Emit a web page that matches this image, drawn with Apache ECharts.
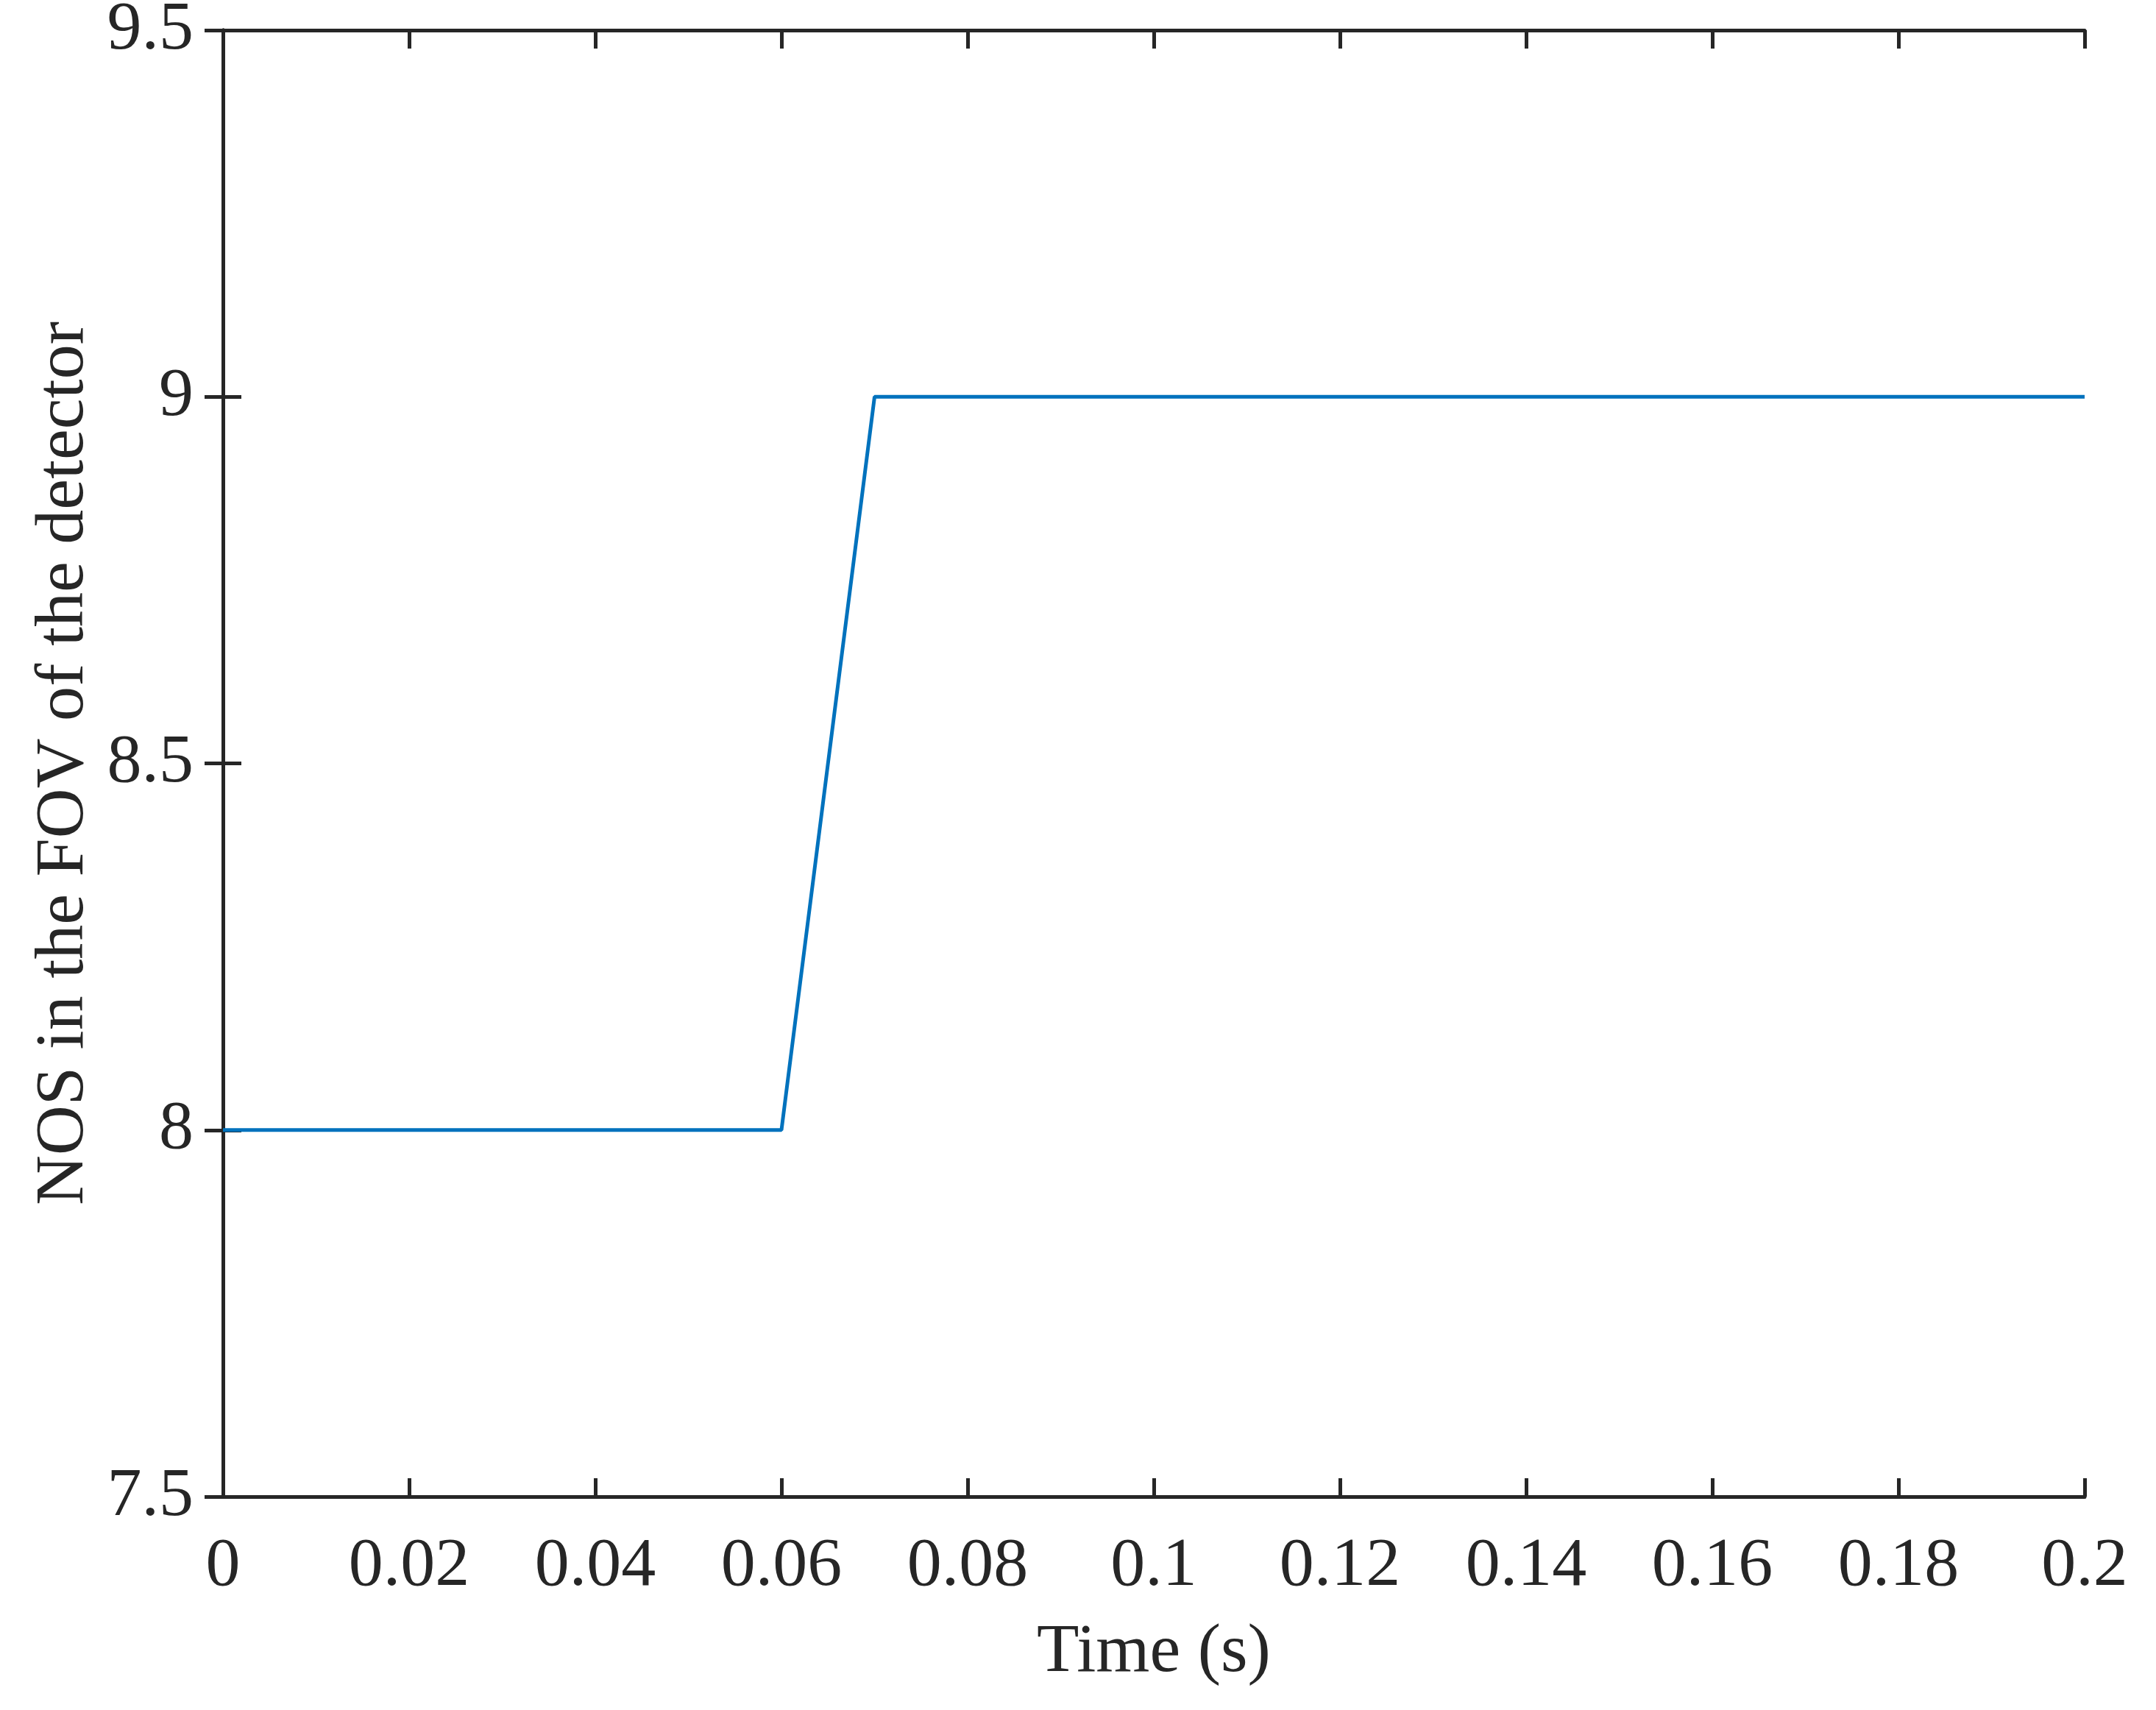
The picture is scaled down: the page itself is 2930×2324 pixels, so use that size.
<!DOCTYPE html>
<html>
<head>
<meta charset="utf-8">
<script src="https://cdn.jsdelivr.net/npm/echarts@6/dist/echarts.min.js"></script>
<style>html,body{margin:0;padding:0;background:#fff}#c{width:2930px;height:2324px}</style>
</head>
<body>
<div id="c"></div>
<script>
const timeValues = [0, 0.06, 0.07, 0.2];
const nosValues = [8, 8, 9, 9];
const xTicks = {min: 0, max: 0.2, interval: 0.02};
const yTicks = {min: 7.5, max: 9.5, interval: 0.5};
const xTitle = 'Time (s)';
const yTitle = 'NOS in the FOV of the detector';

const FONT = '"Liberation Serif", "Times New Roman", serif';
const INK = '#262626';
const FS = 94;
const chart = echarts.init(document.getElementById('c'), null, {renderer: 'canvas'});
const axLine = {show: true, lineStyle: {color: INK, width: 5}};
const axTick = {show: true, inside: true, length: 25, lineStyle: {color: INK, width: 5}};
chart.setOption({
  animation: false,
  backgroundColor: '#fff',
  grid: {left: 303, right: 97, top: 41, bottom: 290, containLabel: false, outerBoundsMode: 'none'},
  xAxis: [{
    type: 'value', min: xTicks.min, max: xTicks.max, interval: xTicks.interval,
    name: xTitle, nameLocation: 'middle', nameGap: 165,
    nameTextStyle: {fontFamily: FONT, fontSize: FS, color: INK},
    axisLine: axLine, axisTick: axTick,
    axisLabel: {fontFamily: FONT, fontSize: FS, color: INK, margin: 48},
    splitLine: {show: false}
  }, {
    type: 'value', position: 'top', min: xTicks.min, max: xTicks.max, interval: xTicks.interval,
    axisLine: axLine, axisTick: axTick, axisLabel: {show: false}, splitLine: {show: false}
  }],
  yAxis: [{
    type: 'value', min: yTicks.min, max: yTicks.max, interval: yTicks.interval,
    name: yTitle, nameLocation: 'middle', nameGap: 165,
    nameTextStyle: {fontFamily: FONT, fontSize: FS, color: INK},
    axisLine: axLine, axisTick: axTick,
    axisLabel: {fontFamily: FONT, fontSize: FS, color: INK, margin: 40},
    splitLine: {show: false}
  }, {
    type: 'value', position: 'right', min: yTicks.min, max: yTicks.max, interval: yTicks.interval,
    axisLine: axLine, axisTick: axTick, axisLabel: {show: false}, splitLine: {show: false}
  }],
  series: [{
    type: 'line',
    data: timeValues.map((t, i) => [t, nosValues[i]]),
    showSymbol: false,
    lineStyle: {color: '#0072BD', width: 5},
    z: 1
  }]
});
</script>
</body>
</html>
